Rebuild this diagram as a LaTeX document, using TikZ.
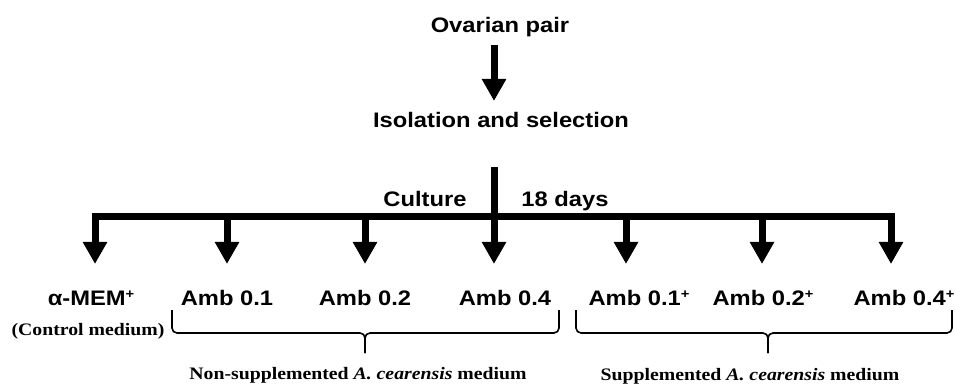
\documentclass[tikz,border=0pt]{standalone}
\usepackage{fontspec}
\usepackage{graphicx}
\setmainfont{Liberation Serif}
\setsansfont{Liberation Sans}
\usetikzlibrary{arrows.meta}
\newcommand{\hstr}[1]{\scalebox{1.13}[1]{#1}}
\newcommand{\hstrs}[1]{\scalebox{1.13}[1]{#1}}
\newcommand{\spl}{\raisebox{0.55ex}{\fontsize{13}{13}\selectfont +}}
\begin{document}
\begin{tikzpicture}[x=1pt,y=-1pt,
  lbl/.style={font=\sffamily\bfseries\fontsize{21}{24}\selectfont, inner sep=0pt, anchor=base},
  sub/.style={font=\rmfamily\bfseries\fontsize{17.5}{20}\selectfont, inner sep=0pt, anchor=base},
  thick arrow/.style={line width=7pt, -{Triangle[width=23pt,length=22pt]}},
  bar/.style={line width=7pt},
  brace/.style={line width=1.6pt, rounded corners=5pt}]
\useasboundingbox (0,0) rectangle (955,387);
% top texts
\node[lbl] (ov) at (500,33) {\hstr{Ovarian pair}};
\node[lbl] (iso) at (501,128) {\hstr{Isolation and selection}};
\node[lbl] (cul) at (425,207) {\hstr{Culture}};
\node[lbl] (days) at (565,207) {\hstr{18 days}};
% coordinates
\coordinate (a0) at (494,45);
\coordinate (a1) at (494,101);
\coordinate (c0) at (494,167);
\coordinate (hub) at (494,217);
\coordinate (bl) at (91.5,217);
\coordinate (br) at (894.5,217);
\foreach \n/\x in {1/95,2/227,3/365,4/494,5/626,6/762,7/891}{
  \coordinate (t\n) at (\x,217);
  \coordinate (e\n) at (\x,264);
}
% labels
\node[lbl] (l1) at (91,305) {\hstr{α-MEM\spl}};
\node[lbl] (l2) at (227,305) {\hstr{Amb 0.1}};
\node[lbl] (l3) at (365,305) {\hstr{Amb 0.2}};
\node[lbl] (l4) at (505,305) {\hstr{Amb 0.4}};
\node[lbl] (l5) at (639,305) {\hstr{Amb 0.1\spl}};
\node[lbl] (l6) at (763,305) {\hstr{Amb 0.2\spl}};
\node[lbl] (l7) at (904,305) {\hstr{Amb 0.4\spl}};
\node[sub] (ctrl) at (88,335) {\hstrs{(Control medium)}};
\node[sub] (nons) at (358,379) {\hstrs{Non-supplemented \textit{A. cearensis} medium}};
\node[sub] (sups) at (750,380) {\hstrs{Supplemented \textit{A. cearensis} medium}};
% arrows
\draw[thick arrow] (a0) -- (a1);
\draw[bar] (c0) -- (hub);
\draw[bar] (bl) -- (br);
\foreach \n in {1,...,7}{\draw[thick arrow] (t\n) -- (e\n);}
% braces
\coordinate (b1s) at (172,310);
\coordinate (b1e) at (559,310);
\coordinate (b1t) at (365,353);
\draw[brace] (b1s) -- (172,333) -- (365,333) -- (b1t);
\draw[brace] (b1e) -- (559,333) -- (365,333) -- (b1t);
\coordinate (b2s) at (576,310);
\coordinate (b2e) at (952,310);
\coordinate (b2t) at (768,353);
\draw[brace] (b2s) -- (576,333) -- (768,333) -- (b2t);
\draw[brace] (b2e) -- (952,333) -- (768,333) -- (b2t);
\end{tikzpicture}
\end{document}
